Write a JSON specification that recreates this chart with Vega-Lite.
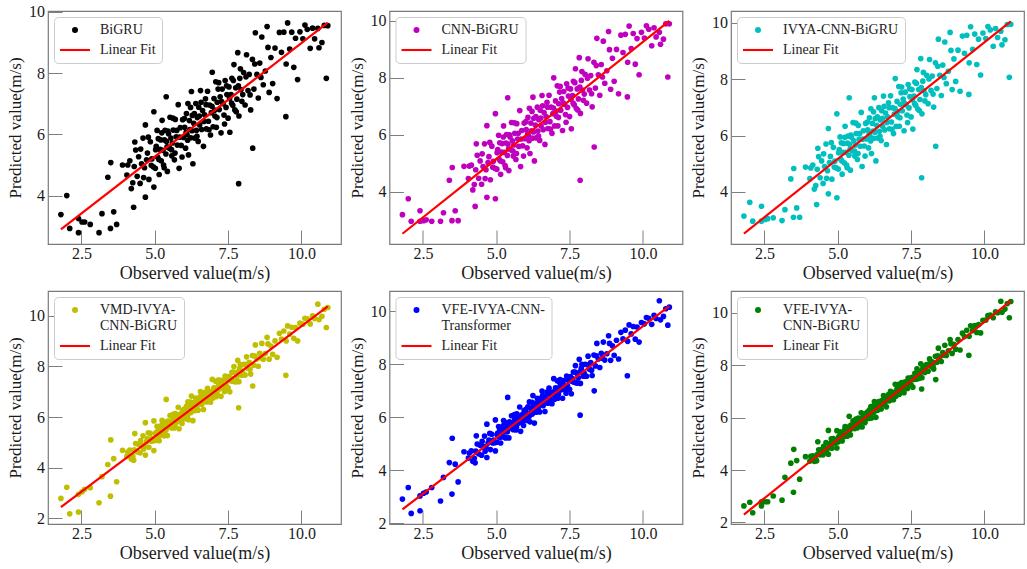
{
"$schema": "https://vega.github.io/schema/vega-lite/v6.json",
"background": "white",
"padding": {"left": 5, "top": 3, "right": 2, "bottom": 2},
"config": {
  "font": "Liberation Serif",
  "view": {"stroke": "#7a7a7a", "strokeWidth": 1.2},
  "axis": {"domain": false, "grid": false, "tickSize": -14, "tickColor": "#7f7f7f", "tickWidth": 1, "labelFont": "Liberation Serif", "labelFontSize": 16, "labelColor": "#1a1a1a", "titleFont": "Liberation Serif", "titleFontWeight": "normal", "titleColor": "#1a1a1a"},
  "axisX": {"labelPadding": 15.5, "titleFontSize": 18, "titlePadding": 3},
  "axisY": {"labelPadding": 17.5, "titleFontSize": 17, "titlePadding": 4},
  "legend": {"orient": "top-left", "offset": 6, "padding": 6, "strokeColor": "#cccccc", "cornerRadius": 4, "fillColor": "#ffffff", "labelFont": "Liberation Serif", "labelFontSize": 14, "labelColor": "#222222", "symbolSize": 36, "rowPadding": 6}
},
"resolve": {"scale": {"color": "independent", "shape": "independent"}, "legend": {"color": "independent", "shape": "independent"}},
"datasets": {
"obs": [
{"obs":1.80,"bigru":3.38,"cnn":3.19,"ivya":3.14,"vmd":2.79,"vfet":2.91,"vfeb":2.63},
{"obs":2.00,"bigru":4.00,"cnn":3.75,"ivya":3.63,"vmd":3.23,"vfet":3.35,"vfeb":2.77},
{"obs":2.10,"bigru":2.93,"cnn":2.96,"ivya":2.96,"vmd":2.18,"vfet":2.37,"vfeb":2.37},
{"obs":2.40,"bigru":3.25,"cnn":3.33,"ivya":3.49,"vmd":2.95,"vfet":3.03,"vfeb":2.79},
{"obs":2.40,"bigru":2.79,"cnn":2.96,"ivya":2.96,"vmd":2.25,"vfet":2.47,"vfeb":2.63},
{"obs":2.52,"bigru":3.14,"cnn":2.98,"ivya":3.02,"vmd":3.05,"vfet":3.13,"vfeb":2.79},
{"obs":2.61,"bigru":3.14,"cnn":3.01,"ivya":3.05,"vmd":3.15,"vfet":3.18,"vfeb":2.79},
{"obs":2.80,"bigru":3.06,"cnn":2.96,"ivya":3.08,"vmd":3.21,"vfet":3.35,"vfeb":3.01},
{"obs":3.10,"bigru":2.79,"cnn":2.96,"ivya":2.98,"vmd":2.62,"vfet":2.84,"vfeb":2.85},
{"obs":3.20,"bigru":3.41,"cnn":3.26,"ivya":3.37,"vmd":3.65,"vfet":3.73,"vfeb":3.72},
{"obs":3.40,"bigru":4.60,"cnn":4.40,"ivya":4.46,"vmd":4.13,"vfet":4.29,"vfeb":4.26},
{"obs":3.49,"bigru":2.93,"cnn":2.98,"ivya":3.10,"vmd":2.88,"vfet":3.10,"vfeb":3.15},
{"obs":3.50,"bigru":5.08,"cnn":4.85,"ivya":4.83,"vmd":5.10,"vfet":5.21,"vfeb":4.79},
{"obs":3.60,"bigru":3.47,"cnn":3.33,"ivya":3.43,"vmd":4.36,"vfet":4.23,"vfeb":4.36},
{"obs":3.70,"bigru":3.06,"cnn":2.98,"ivya":3.10,"vmd":3.45,"vfet":3.56,"vfeb":3.65},
{"obs":3.90,"bigru":5.00,"cnn":4.89,"ivya":4.88,"vmd":4.69,"vfet":4.70,"vfeb":4.51},
{"obs":4.08,"bigru":5.00,"cnn":4.90,"ivya":4.85,"vmd":4.62,"vfet":4.65,"vfeb":4.52},
{"obs":4.28,"bigru":3.62,"cnn":3.48,"ivya":3.55,"vmd":4.30,"vfet":4.28,"vfeb":4.35},
{"obs":4.20,"bigru":4.23,"cnn":4.06,"ivya":4.10,"vmd":4.35,"vfet":4.34,"vfeb":4.33},
{"obs":4.32,"bigru":5.75,"cnn":5.68,"ivya":5.55,"vmd":5.35,"vfet":5.30,"vfeb":5.08},
{"obs":4.68,"bigru":3.95,"cnn":3.80,"ivya":3.93,"vmd":4.50,"vfet":4.48,"vfeb":4.60},
{"obs":4.97,"bigru":4.28,"cnn":3.75,"ivya":3.79,"vmd":4.68,"vfet":4.73,"vfeb":4.84},
{"obs":4.68,"bigru":6.31,"cnn":6.32,"ivya":6.25,"vmd":5.78,"vfet":5.74,"vfeb":5.51},
{"obs":4.97,"bigru":6.74,"cnn":6.74,"ivya":6.77,"vmd":5.85,"vfet":5.90,"vfeb":5.50},
{"obs":5.39,"bigru":7.23,"cnn":7.30,"ivya":7.34,"vmd":6.70,"vfet":6.75,"vfeb":6.05},
{"obs":7.86,"bigru":4.39,"cnn":4.40,"ivya":4.50,"vmd":6.37,"vfet":6.08,"vfeb":7.09},
{"obs":8.34,"bigru":5.55,"cnn":5.57,"ivya":5.62,"vmd":7.23,"vfet":7.00,"vfeb":7.45},
{"obs":9.47,"bigru":6.58,"cnn":7.33,"ivya":7.46,"vmd":7.65,"vfet":7.57,"vfeb":8.38},
{"obs":10.85,"bigru":7.83,"cnn":8.03,"ivya":8.07,"vmd":9.54,"vfet":9.48,"vfeb":9.81},
{"obs":10.56,"bigru":9.46,"cnn":9.60,"ivya":9.70,"vmd":10.46,"vfet":10.40,"vfeb":10.44},
{"obs":4.05,"bigru":4.67,"cnn":4.46,"ivya":4.47,"vmd":4.45,"vfet":4.46,"vfeb":4.34},
{"obs":4.15,"bigru":5.14,"cnn":4.93,"ivya":4.95,"vmd":4.70,"vfet":4.73,"vfeb":4.54},
{"obs":4.25,"bigru":4.42,"cnn":4.25,"ivya":4.22,"vmd":4.46,"vfet":4.45,"vfeb":4.41},
{"obs":4.30,"bigru":4.95,"cnn":4.77,"ivya":4.80,"vmd":4.71,"vfet":4.72,"vfeb":4.59},
{"obs":4.35,"bigru":5.49,"cnn":5.28,"ivya":5.25,"vmd":4.96,"vfet":4.99,"vfeb":4.77},
{"obs":4.40,"bigru":4.63,"cnn":4.47,"ivya":4.50,"vmd":4.63,"vfet":4.62,"vfeb":4.58},
{"obs":4.45,"bigru":5.27,"cnn":5.08,"ivya":5.10,"vmd":4.92,"vfet":4.94,"vfeb":4.78},
{"obs":4.50,"bigru":4.40,"cnn":4.26,"ivya":4.30,"vmd":4.59,"vfet":4.57,"vfeb":4.58},
{"obs":4.55,"bigru":5.04,"cnn":4.88,"ivya":4.90,"vmd":4.89,"vfet":4.89,"vfeb":4.79},
{"obs":4.60,"bigru":5.88,"cnn":5.68,"ivya":5.70,"vmd":5.26,"vfet":5.29,"vfeb":5.05},
{"obs":4.65,"bigru":4.91,"cnn":4.77,"ivya":4.75,"vmd":4.89,"vfet":4.88,"vfeb":4.83},
{"obs":4.75,"bigru":5.39,"cnn":5.23,"ivya":5.26,"vmd":5.14,"vfet":5.14,"vfeb":5.02},
{"obs":4.80,"bigru":4.53,"cnn":4.42,"ivya":4.45,"vmd":4.81,"vfet":4.78,"vfeb":4.83},
{"obs":4.85,"bigru":5.76,"cnn":5.60,"ivya":5.58,"vmd":5.36,"vfet":5.36,"vfeb":5.20},
{"obs":4.90,"bigru":5.20,"cnn":5.07,"ivya":5.09,"vmd":5.15,"vfet":5.14,"vfeb":5.08},
{"obs":4.95,"bigru":4.94,"cnn":4.82,"ivya":4.85,"vmd":5.07,"vfet":5.04,"vfeb":5.04},
{"obs":5.02,"bigru":4.89,"cnn":4.79,"ivya":4.81,"vmd":5.08,"vfet":5.06,"vfeb":5.08},
{"obs":5.05,"bigru":5.61,"cnn":5.48,"ivya":5.50,"vmd":5.40,"vfet":5.40,"vfeb":5.29},
{"obs":5.08,"bigru":6.13,"cnn":5.98,"ivya":5.95,"vmd":5.64,"vfet":5.65,"vfeb":5.46},
{"obs":5.10,"bigru":5.25,"cnn":5.14,"ivya":5.16,"vmd":5.28,"vfet":5.26,"vfeb":5.23},
{"obs":5.12,"bigru":5.86,"cnn":5.72,"ivya":5.74,"vmd":5.55,"vfet":5.55,"vfeb":5.41},
{"obs":5.15,"bigru":4.69,"cnn":4.61,"ivya":4.63,"vmd":5.07,"vfet":5.03,"vfeb":5.11},
{"obs":5.18,"bigru":5.51,"cnn":5.39,"ivya":5.40,"vmd":5.43,"vfet":5.42,"vfeb":5.36},
{"obs":5.20,"bigru":5.82,"cnn":5.69,"ivya":5.72,"vmd":5.58,"vfet":5.57,"vfeb":5.45},
{"obs":5.22,"bigru":5.14,"cnn":5.05,"ivya":5.03,"vmd":5.30,"vfet":5.27,"vfeb":5.28},
{"obs":5.25,"bigru":6.46,"cnn":6.31,"ivya":6.33,"vmd":5.87,"vfet":5.88,"vfeb":5.66},
{"obs":5.28,"bigru":5.48,"cnn":5.38,"ivya":5.40,"vmd":5.48,"vfet":5.46,"vfeb":5.42},
{"obs":5.30,"bigru":5.00,"cnn":4.92,"ivya":4.95,"vmd":5.29,"vfet":5.25,"vfeb":5.30},
{"obs":5.33,"bigru":5.82,"cnn":5.71,"ivya":5.73,"vmd":5.65,"vfet":5.63,"vfeb":5.54},
{"obs":5.35,"bigru":6.13,"cnn":6.01,"ivya":5.98,"vmd":5.79,"vfet":5.79,"vfeb":5.64},
{"obs":5.38,"bigru":5.36,"cnn":5.27,"ivya":5.30,"vmd":5.48,"vfet":5.45,"vfeb":5.45},
{"obs":5.40,"bigru":5.77,"cnn":5.67,"ivya":5.69,"vmd":5.67,"vfet":5.65,"vfeb":5.58},
{"obs":5.43,"bigru":4.79,"cnn":4.74,"ivya":4.77,"vmd":5.27,"vfet":5.22,"vfeb":5.34},
{"obs":5.45,"bigru":6.11,"cnn":6.00,"ivya":6.02,"vmd":5.84,"vfet":5.83,"vfeb":5.71},
{"obs":5.50,"bigru":5.55,"cnn":5.47,"ivya":5.45,"vmd":5.63,"vfet":5.60,"vfeb":5.59},
{"obs":5.52,"bigru":6.56,"cnn":6.43,"ivya":6.46,"vmd":6.06,"vfet":6.06,"vfeb":5.88},
{"obs":5.55,"bigru":5.88,"cnn":5.79,"ivya":5.81,"vmd":5.80,"vfet":5.77,"vfeb":5.71},
{"obs":5.58,"bigru":5.30,"cnn":5.25,"ivya":5.27,"vmd":5.57,"vfet":5.53,"vfeb":5.58},
{"obs":5.60,"bigru":5.72,"cnn":5.64,"ivya":5.66,"vmd":5.76,"vfet":5.73,"vfeb":5.70},
{"obs":5.63,"bigru":6.14,"cnn":6.05,"ivya":6.07,"vmd":5.95,"vfet":5.93,"vfeb":5.84},
{"obs":5.67,"bigru":5.17,"cnn":5.13,"ivya":5.15,"vmd":5.57,"vfet":5.52,"vfeb":5.61},
{"obs":5.70,"bigru":6.49,"cnn":6.39,"ivya":6.36,"vmd":6.14,"vfet":6.13,"vfeb":5.98},
{"obs":5.73,"bigru":5.92,"cnn":5.85,"ivya":5.87,"vmd":5.91,"vfet":5.88,"vfeb":5.85},
{"obs":5.77,"bigru":5.65,"cnn":5.59,"ivya":5.62,"vmd":5.82,"vfet":5.78,"vfeb":5.80},
{"obs":5.80,"bigru":6.97,"cnn":6.85,"ivya":6.82,"vmd":6.39,"vfet":6.39,"vfeb":6.18},
{"obs":5.83,"bigru":4.89,"cnn":4.88,"ivya":4.90,"vmd":5.54,"vfet":5.47,"vfeb":5.64},
{"obs":5.87,"bigru":6.22,"cnn":6.15,"ivya":6.17,"vmd":6.12,"vfet":6.09,"vfeb":6.03},
{"obs":5.90,"bigru":5.64,"cnn":5.61,"ivya":5.63,"vmd":5.89,"vfet":5.85,"vfeb":5.89},
{"obs":5.95,"bigru":6.48,"cnn":6.41,"ivya":6.43,"vmd":6.27,"vfet":6.25,"vfeb":6.15},
{"obs":5.98,"bigru":5.90,"cnn":5.86,"ivya":5.88,"vmd":6.05,"vfet":6.00,"vfeb":6.02},
{"obs":6.02,"bigru":6.23,"cnn":6.18,"ivya":6.20,"vmd":6.21,"vfet":6.17,"vfeb":6.14},
{"obs":6.05,"bigru":5.55,"cnn":5.54,"ivya":5.56,"vmd":5.94,"vfet":5.88,"vfeb":5.97},
{"obs":6.08,"bigru":6.68,"cnn":6.61,"ivya":6.63,"vmd":6.43,"vfet":6.40,"vfeb":6.30},
{"obs":6.10,"bigru":5.99,"cnn":5.96,"ivya":5.98,"vmd":6.15,"vfet":6.10,"vfeb":6.13},
{"obs":6.13,"bigru":7.01,"cnn":6.93,"ivya":6.95,"vmd":6.60,"vfet":6.58,"vfeb":6.42},
{"obs":6.15,"bigru":5.33,"cnn":5.34,"ivya":5.36,"vmd":5.90,"vfet":5.83,"vfeb":5.98},
{"obs":6.18,"bigru":6.45,"cnn":6.41,"ivya":6.43,"vmd":6.39,"vfet":6.35,"vfeb":6.31},
{"obs":6.20,"bigru":6.16,"cnn":6.14,"ivya":6.16,"vmd":6.28,"vfet":6.23,"vfeb":6.24},
{"obs":6.23,"bigru":5.89,"cnn":5.88,"ivya":5.90,"vmd":6.18,"vfet":6.12,"vfeb":6.19},
{"obs":6.25,"bigru":7.40,"cnn":7.32,"ivya":7.34,"vmd":6.83,"vfet":6.82,"vfeb":6.61},
{"obs":6.28,"bigru":6.62,"cnn":6.58,"ivya":6.60,"vmd":6.52,"vfet":6.48,"vfeb":6.42},
{"obs":6.30,"bigru":5.04,"cnn":5.08,"ivya":5.10,"vmd":5.86,"vfet":5.78,"vfeb":6.01},
{"obs":6.33,"bigru":6.36,"cnn":6.34,"ivya":6.36,"vmd":6.43,"vfet":6.39,"vfeb":6.39},
{"obs":6.36,"bigru":5.88,"cnn":5.89,"ivya":5.91,"vmd":6.25,"vfet":6.19,"vfeb":6.28},
{"obs":6.40,"bigru":7.01,"cnn":6.97,"ivya":6.99,"vmd":6.75,"vfet":6.72,"vfeb":6.61},
{"obs":6.42,"bigru":6.13,"cnn":6.13,"ivya":6.15,"vmd":6.39,"vfet":6.33,"vfeb":6.39},
{"obs":6.45,"bigru":6.55,"cnn":6.53,"ivya":6.55,"vmd":6.58,"vfet":6.53,"vfeb":6.52},
{"obs":6.48,"bigru":5.77,"cnn":5.80,"ivya":5.82,"vmd":6.27,"vfet":6.20,"vfeb":6.33},
{"obs":6.50,"bigru":6.89,"cnn":6.86,"ivya":6.88,"vmd":6.75,"vfet":6.71,"vfeb":6.65},
{"obs":6.53,"bigru":6.31,"cnn":6.31,"ivya":6.33,"vmd":6.52,"vfet":6.47,"vfeb":6.51},
{"obs":6.56,"bigru":7.43,"cnn":7.38,"ivya":7.40,"vmd":7.01,"vfet":6.99,"vfeb":6.84},
{"obs":6.60,"bigru":6.16,"cnn":6.18,"ivya":6.20,"vmd":6.50,"vfet":6.44,"vfeb":6.52},
{"obs":6.63,"bigru":6.78,"cnn":6.78,"ivya":6.80,"vmd":6.78,"vfet":6.73,"vfeb":6.71},
{"obs":6.66,"bigru":5.61,"cnn":5.66,"ivya":5.68,"vmd":6.30,"vfet":6.22,"vfeb":6.41},
{"obs":6.70,"bigru":6.64,"cnn":6.64,"ivya":6.66,"vmd":6.75,"vfet":6.70,"vfeb":6.72},
{"obs":6.73,"bigru":7.16,"cnn":7.14,"ivya":7.16,"vmd":6.99,"vfet":6.95,"vfeb":6.88},
{"obs":6.76,"bigru":6.18,"cnn":6.22,"ivya":6.24,"vmd":6.60,"vfet":6.53,"vfeb":6.64},
{"obs":6.80,"bigru":7.41,"cnn":7.39,"ivya":7.41,"vmd":7.14,"vfet":7.10,"vfeb":7.00},
{"obs":6.83,"bigru":6.43,"cnn":6.46,"ivya":6.48,"vmd":6.74,"vfet":6.68,"vfeb":6.75},
{"obs":6.87,"bigru":6.96,"cnn":6.97,"ivya":6.99,"vmd":6.99,"vfet":6.93,"vfeb":6.92},
{"obs":6.90,"bigru":5.98,"cnn":6.05,"ivya":6.07,"vmd":6.59,"vfet":6.51,"vfeb":6.68},
{"obs":6.93,"bigru":6.71,"cnn":6.74,"ivya":6.76,"vmd":6.91,"vfet":6.85,"vfeb":6.90},
{"obs":6.96,"bigru":8.03,"cnn":8.00,"ivya":8.02,"vmd":7.49,"vfet":7.46,"vfeb":7.27},
{"obs":6.99,"bigru":6.25,"cnn":6.31,"ivya":6.33,"vmd":6.76,"vfet":6.68,"vfeb":6.82},
{"obs":7.02,"bigru":7.17,"cnn":7.19,"ivya":7.21,"vmd":7.16,"vfet":7.11,"vfeb":7.09},
{"obs":7.05,"bigru":6.60,"cnn":6.65,"ivya":6.67,"vmd":6.93,"vfet":6.86,"vfeb":6.95},
{"obs":7.08,"bigru":7.72,"cnn":7.72,"ivya":7.74,"vmd":7.42,"vfet":7.38,"vfeb":7.27},
{"obs":7.10,"bigru":6.23,"cnn":6.31,"ivya":6.33,"vmd":6.81,"vfet":6.72,"vfeb":6.89},
{"obs":7.13,"bigru":7.05,"cnn":7.09,"ivya":7.11,"vmd":7.17,"vfet":7.11,"vfeb":7.13},
{"obs":7.16,"bigru":7.48,"cnn":7.50,"ivya":7.52,"vmd":7.37,"vfet":7.31,"vfeb":7.26},
{"obs":7.20,"bigru":6.81,"cnn":6.86,"ivya":6.88,"vmd":7.11,"vfet":7.03,"vfeb":7.11},
{"obs":7.23,"bigru":7.23,"cnn":7.27,"ivya":7.29,"vmd":7.30,"vfet":7.24,"vfeb":7.25},
{"obs":7.26,"bigru":6.05,"cnn":6.15,"ivya":6.17,"vmd":6.82,"vfet":6.72,"vfeb":6.95},
{"obs":7.30,"bigru":7.48,"cnn":7.52,"ivya":7.54,"vmd":7.45,"vfet":7.39,"vfeb":7.36},
{"obs":7.33,"bigru":7.00,"cnn":7.07,"ivya":7.09,"vmd":7.26,"vfet":7.19,"vfeb":7.26},
{"obs":7.36,"bigru":6.63,"cnn":6.71,"ivya":6.73,"vmd":7.12,"vfet":7.03,"vfeb":7.17},
{"obs":7.40,"bigru":7.76,"cnn":7.79,"ivya":7.81,"vmd":7.62,"vfet":7.56,"vfeb":7.51},
{"obs":7.43,"bigru":6.88,"cnn":6.96,"ivya":6.98,"vmd":7.26,"vfet":7.18,"vfeb":7.29},
{"obs":7.46,"bigru":7.30,"cnn":7.36,"ivya":7.38,"vmd":7.46,"vfet":7.39,"vfeb":7.43},
{"obs":7.50,"bigru":6.53,"cnn":6.64,"ivya":6.66,"vmd":7.16,"vfet":7.06,"vfeb":7.25},
{"obs":7.53,"bigru":7.55,"cnn":7.61,"ivya":7.63,"vmd":7.60,"vfet":7.54,"vfeb":7.54},
{"obs":7.56,"bigru":6.07,"cnn":6.21,"ivya":6.23,"vmd":7.00,"vfet":6.89,"vfeb":7.16},
{"obs":7.60,"bigru":7.30,"cnn":7.38,"ivya":7.40,"vmd":7.54,"vfet":7.46,"vfeb":7.52},
{"obs":7.63,"bigru":7.83,"cnn":7.88,"ivya":7.90,"vmd":7.77,"vfet":7.71,"vfeb":7.69},
{"obs":7.66,"bigru":6.95,"cnn":7.05,"ivya":7.07,"vmd":7.42,"vfet":7.33,"vfeb":7.47},
{"obs":7.70,"bigru":8.28,"cnn":8.32,"ivya":8.34,"vmd":8.00,"vfet":7.95,"vfeb":7.86},
{"obs":7.73,"bigru":6.80,"cnn":6.92,"ivya":6.94,"vmd":7.40,"vfet":7.30,"vfeb":7.48},
{"obs":7.76,"bigru":7.52,"cnn":7.61,"ivya":7.63,"vmd":7.72,"vfet":7.64,"vfeb":7.69},
{"obs":7.80,"bigru":7.15,"cnn":7.26,"ivya":7.28,"vmd":7.59,"vfet":7.49,"vfeb":7.62},
{"obs":7.83,"bigru":8.67,"cnn":8.71,"ivya":8.73,"vmd":8.24,"vfet":8.19,"vfeb":8.05},
{"obs":7.87,"bigru":6.60,"cnn":6.75,"ivya":6.77,"vmd":7.40,"vfet":7.28,"vfeb":7.52},
{"obs":7.90,"bigru":7.83,"cnn":7.91,"ivya":7.93,"vmd":7.93,"vfet":7.85,"vfeb":7.87},
{"obs":7.94,"bigru":7.46,"cnn":7.57,"ivya":7.59,"vmd":7.79,"vfet":7.70,"vfeb":7.80},
{"obs":7.97,"bigru":7.08,"cnn":7.21,"ivya":7.23,"vmd":7.65,"vfet":7.55,"vfeb":7.72},
{"obs":8.03,"bigru":8.02,"cnn":8.12,"ivya":8.14,"vmd":8.08,"vfet":8.00,"vfeb":8.02},
{"obs":8.08,"bigru":6.96,"cnn":7.11,"ivya":7.13,"vmd":7.66,"vfet":7.55,"vfeb":7.77},
{"obs":8.13,"bigru":8.60,"cnn":8.67,"ivya":8.70,"vmd":8.38,"vfet":8.31,"vfeb":8.24},
{"obs":8.18,"bigru":7.43,"cnn":7.57,"ivya":7.60,"vmd":7.92,"vfet":7.81,"vfeb":7.96},
{"obs":8.22,"bigru":7.96,"cnn":8.08,"ivya":8.11,"vmd":8.16,"vfet":8.07,"vfeb":8.13},
{"obs":8.27,"bigru":6.80,"cnn":6.98,"ivya":7.01,"vmd":7.70,"vfet":7.58,"vfeb":7.85},
{"obs":8.33,"bigru":8.45,"cnn":8.55,"ivya":8.58,"vmd":8.43,"vfet":8.35,"vfeb":8.34},
{"obs":8.38,"bigru":7.48,"cnn":7.64,"ivya":7.67,"vmd":8.05,"vfet":7.94,"vfeb":8.11},
{"obs":8.43,"bigru":9.32,"cnn":9.39,"ivya":9.42,"vmd":8.85,"vfet":8.79,"vfeb":8.65},
{"obs":8.48,"bigru":7.96,"cnn":8.11,"ivya":8.14,"vmd":8.30,"vfet":8.20,"vfeb":8.31},
{"obs":8.53,"bigru":7.19,"cnn":7.39,"ivya":7.42,"vmd":8.01,"vfet":7.88,"vfeb":8.14},
{"obs":8.58,"bigru":8.33,"cnn":8.47,"ivya":8.50,"vmd":8.52,"vfet":8.42,"vfeb":8.48},
{"obs":8.65,"bigru":9.18,"cnn":9.29,"ivya":9.32,"vmd":8.91,"vfet":8.84,"vfeb":8.76},
{"obs":8.70,"bigru":7.62,"cnn":7.81,"ivya":7.84,"vmd":8.29,"vfet":8.16,"vfeb":8.37},
{"obs":8.77,"bigru":8.07,"cnn":8.25,"ivya":8.28,"vmd":8.51,"vfet":8.40,"vfeb":8.55},
{"obs":8.83,"bigru":9.52,"cnn":9.63,"ivya":9.66,"vmd":9.15,"vfet":9.08,"vfeb":8.98},
{"obs":8.90,"bigru":7.37,"cnn":7.60,"ivya":7.63,"vmd":8.29,"vfet":8.15,"vfeb":8.45},
{"obs":8.96,"bigru":8.51,"cnn":8.69,"ivya":8.72,"vmd":8.81,"vfet":8.70,"vfeb":8.80},
{"obs":9.02,"bigru":7.66,"cnn":7.88,"ivya":7.92,"vmd":8.48,"vfet":8.34,"vfeb":8.61},
{"obs":9.10,"bigru":8.82,"cnn":9.00,"ivya":9.03,"vmd":9.01,"vfet":8.91,"vfeb":8.98},
{"obs":9.17,"bigru":7.17,"cnn":7.44,"ivya":7.57,"vmd":8.36,"vfet":8.20,"vfeb":8.58},
{"obs":9.25,"bigru":9.33,"cnn":9.50,"ivya":9.53,"vmd":9.31,"vfet":9.21,"vfeb":9.22},
{"obs":9.32,"bigru":8.68,"cnn":8.89,"ivya":8.92,"vmd":9.08,"vfet":8.96,"vfeb":9.09},
{"obs":9.40,"bigru":9.34,"cnn":9.53,"ivya":9.56,"vmd":9.40,"vfet":9.29,"vfeb":9.33},
{"obs":9.48,"bigru":8.30,"cnn":8.55,"ivya":8.58,"vmd":9.01,"vfet":8.87,"vfeb":9.10},
{"obs":9.53,"bigru":9.64,"cnn":9.82,"ivya":9.86,"vmd":9.60,"vfet":9.49,"vfeb":9.50},
{"obs":9.60,"bigru":8.79,"cnn":9.03,"ivya":9.06,"vmd":9.28,"vfet":9.15,"vfeb":9.32},
{"obs":9.67,"bigru":9.34,"cnn":9.56,"ivya":9.60,"vmd":9.55,"vfet":9.43,"vfeb":9.51},
{"obs":9.74,"bigru":8.19,"cnn":8.48,"ivya":8.52,"vmd":9.11,"vfet":8.95,"vfeb":9.25},
{"obs":9.80,"bigru":9.14,"cnn":9.38,"ivya":9.42,"vmd":9.54,"vfet":9.41,"vfeb":9.55},
{"obs":9.87,"bigru":7.79,"cnn":8.11,"ivya":8.15,"vmd":9.01,"vfet":8.84,"vfeb":9.23},
{"obs":9.95,"bigru":9.35,"cnn":9.60,"ivya":9.64,"vmd":9.71,"vfet":9.58,"vfeb":9.71},
{"obs":10.05,"bigru":9.12,"cnn":9.40,"ivya":9.44,"vmd":9.67,"vfet":9.53,"vfeb":9.72},
{"obs":10.12,"bigru":9.57,"cnn":9.83,"ivya":9.87,"vmd":9.90,"vfet":9.77,"vfeb":9.89},
{"obs":10.20,"bigru":9.43,"cnn":9.71,"ivya":9.75,"vmd":9.88,"vfet":9.74,"vfeb":9.91},
{"obs":10.30,"bigru":8.81,"cnn":9.13,"ivya":9.17,"vmd":9.68,"vfet":9.51,"vfeb":9.81},
{"obs":10.38,"bigru":9.47,"cnn":9.76,"ivya":9.80,"vmd":10.00,"vfet":9.85,"vfeb":10.04},
{"obs":10.45,"bigru":9.12,"cnn":9.44,"ivya":9.48,"vmd":9.89,"vfet":9.73,"vfeb":10.00},
{"obs":10.60,"bigru":8.83,"cnn":9.18,"ivya":9.22,"vmd":9.85,"vfet":9.68,"vfeb":10.02},
{"obs":10.70,"bigru":9.00,"cnn":9.36,"ivya":9.40,"vmd":9.98,"vfet":9.81,"vfeb":10.14},
{"obs":10.78,"bigru":9.56,"cnn":9.90,"ivya":9.94,"vmd":10.26,"vfet":10.10,"vfeb":10.35},
{"obs":10.90,"bigru":9.55,"cnn":9.90,"ivya":9.95,"vmd":10.33,"vfet":10.16,"vfeb":10.43},
{"obs":4.52,"bigru":5.52,"cnn":5.33,"ivya":5.35,"vmd":5.07,"vfet":5.09,"vfeb":4.90},
{"obs":4.62,"bigru":4.59,"cnn":4.46,"ivya":4.48,"vmd":4.74,"vfet":4.72,"vfeb":4.72},
{"obs":4.72,"bigru":5.17,"cnn":5.02,"ivya":5.04,"vmd":5.03,"vfet":5.03,"vfeb":4.94},
{"obs":4.78,"bigru":5.91,"cnn":5.73,"ivya":5.75,"vmd":5.38,"vfet":5.39,"vfeb":5.19},
{"obs":4.88,"bigru":4.99,"cnn":4.86,"ivya":4.88,"vmd":5.05,"vfet":5.03,"vfeb":5.01},
{"obs":5.03,"bigru":5.50,"cnn":5.37,"ivya":5.39,"vmd":5.34,"vfet":5.34,"vfeb":5.25},
{"obs":5.14,"bigru":5.18,"cnn":5.08,"ivya":5.10,"vmd":5.27,"vfet":5.25,"vfeb":5.24},
{"obs":5.24,"bigru":6.05,"cnn":5.92,"ivya":5.94,"vmd":5.70,"vfet":5.69,"vfeb":5.54},
{"obs":5.32,"bigru":4.91,"cnn":4.84,"ivya":4.86,"vmd":5.26,"vfet":5.22,"vfeb":5.29},
{"obs":5.42,"bigru":5.59,"cnn":5.50,"ivya":5.51,"vmd":5.60,"vfet":5.57,"vfeb":5.54},
{"obs":5.47,"bigru":6.02,"cnn":5.92,"ivya":5.94,"vmd":5.81,"vfet":5.80,"vfeb":5.70},
{"obs":5.57,"bigru":5.50,"cnn":5.43,"ivya":5.45,"vmd":5.65,"vfet":5.61,"vfeb":5.62},
{"obs":5.62,"bigru":6.53,"cnn":6.42,"ivya":6.44,"vmd":6.11,"vfet":6.10,"vfeb":5.94},
{"obs":5.69,"bigru":5.39,"cnn":5.34,"ivya":5.36,"vmd":5.67,"vfet":5.62,"vfeb":5.68},
{"obs":5.75,"bigru":6.13,"cnn":6.05,"ivya":6.07,"vmd":6.01,"vfet":5.99,"vfeb":5.92},
{"obs":5.85,"bigru":5.91,"cnn":5.85,"ivya":5.87,"vmd":5.97,"vfet":5.94,"vfeb":5.93},
{"obs":5.93,"bigru":5.26,"cnn":5.25,"ivya":5.27,"vmd":5.75,"vfet":5.69,"vfeb":5.81},
{"obs":6.01,"bigru":6.52,"cnn":6.46,"ivya":6.48,"vmd":6.32,"vfet":6.30,"vfeb":6.21},
{"obs":6.07,"bigru":6.07,"cnn":6.03,"ivya":6.05,"vmd":6.17,"vfet":6.12,"vfeb":6.13},
{"obs":6.12,"bigru":5.81,"cnn":5.79,"ivya":5.81,"vmd":6.08,"vfet":6.03,"vfeb":6.09},
{"obs":6.22,"bigru":6.88,"cnn":6.82,"ivya":6.84,"vmd":6.59,"vfet":6.57,"vfeb":6.45},
{"obs":6.27,"bigru":6.12,"cnn":6.10,"ivya":6.12,"vmd":6.30,"vfet":6.25,"vfeb":6.28},
{"obs":6.35,"bigru":6.68,"cnn":6.64,"ivya":6.66,"vmd":6.58,"vfet":6.54,"vfeb":6.49},
{"obs":6.44,"bigru":5.94,"cnn":5.95,"ivya":5.97,"vmd":6.32,"vfet":6.26,"vfeb":6.35},
{"obs":6.52,"bigru":6.60,"cnn":6.59,"ivya":6.61,"vmd":6.64,"vfet":6.59,"vfeb":6.58},
{"obs":6.58,"bigru":7.05,"cnn":7.02,"ivya":7.04,"vmd":6.86,"vfet":6.82,"vfeb":6.75},
{"obs":6.68,"bigru":6.42,"cnn":6.44,"ivya":6.46,"vmd":6.65,"vfet":6.59,"vfeb":6.65},
{"obs":6.75,"bigru":6.97,"cnn":6.97,"ivya":6.99,"vmd":6.93,"vfet":6.88,"vfeb":6.84},
{"obs":6.85,"bigru":6.15,"cnn":6.20,"ivya":6.22,"vmd":6.63,"vfet":6.56,"vfeb":6.69},
{"obs":6.95,"bigru":6.92,"cnn":6.94,"ivya":6.96,"vmd":7.02,"vfet":6.96,"vfeb":6.97},
{"obs":7.04,"bigru":6.79,"cnn":6.83,"ivya":6.85,"vmd":7.01,"vfet":6.94,"vfeb":7.00},
{"obs":7.12,"bigru":6.55,"cnn":6.61,"ivya":6.63,"vmd":6.95,"vfet":6.87,"vfeb":6.99},
{"obs":7.18,"bigru":7.69,"cnn":7.70,"ivya":7.72,"vmd":7.47,"vfet":7.42,"vfeb":7.34},
{"obs":7.28,"bigru":7.07,"cnn":7.12,"ivya":7.14,"vmd":7.26,"vfet":7.19,"vfeb":7.24},
{"obs":7.38,"bigru":6.34,"cnn":6.44,"ivya":6.46,"vmd":7.01,"vfet":6.91,"vfeb":7.11},
{"obs":7.45,"bigru":7.59,"cnn":7.64,"ivya":7.66,"vmd":7.58,"vfet":7.51,"vfeb":7.50},
{"obs":7.55,"bigru":7.17,"cnn":7.25,"ivya":7.27,"vmd":7.45,"vfet":7.37,"vfeb":7.45},
{"obs":7.62,"bigru":7.02,"cnn":7.11,"ivya":7.13,"vmd":7.43,"vfet":7.34,"vfeb":7.46},
{"obs":7.68,"bigru":7.76,"cnn":7.83,"ivya":7.85,"vmd":7.78,"vfet":7.71,"vfeb":7.70},
{"obs":7.78,"bigru":6.74,"cnn":6.87,"ivya":6.89,"vmd":7.40,"vfet":7.30,"vfeb":7.50},
{"obs":7.85,"bigru":7.59,"cnn":7.68,"ivya":7.70,"vmd":7.80,"vfet":7.72,"vfeb":7.78},
{"obs":7.92,"bigru":8.14,"cnn":8.22,"ivya":8.24,"vmd":8.07,"vfet":8.00,"vfeb":7.97},
{"obs":8.00,"bigru":7.30,"cnn":7.43,"ivya":7.45,"vmd":7.76,"vfet":7.66,"vfeb":7.80},
{"obs":8.11,"bigru":7.88,"cnn":7.99,"ivya":8.01,"vmd":8.07,"vfet":7.98,"vfeb":8.04},
{"obs":8.25,"bigru":7.29,"cnn":7.44,"ivya":7.47,"vmd":7.89,"vfet":7.78,"vfeb":7.97},
{"obs":8.41,"bigru":8.30,"cnn":8.43,"ivya":8.46,"vmd":8.41,"vfet":8.32,"vfeb":8.36},
{"obs":8.62,"bigru":7.86,"cnn":8.03,"ivya":8.06,"vmd":8.34,"vfet":8.23,"vfeb":8.38},
{"obs":8.86,"bigru":8.84,"cnn":8.99,"ivya":9.02,"vmd":8.89,"vfet":8.79,"vfeb":8.82}
]
},
"concat": [
{
 "width": 293, "height": 233,
 "layer": [
  {"data": {"name": "obs"}, "mark": {"type": "point", "filled": true, "size": 32, "opacity": 1},
   "encoding": {
    "x": {"field": "obs", "type": "quantitative", "scale": {"domain": [1.36, 11.35], "nice": false, "zero": false}, "axis": {"values": [2.5, 5, 7.5, 10], "format": ".1f", "title": "Observed value(m/s)"}},
    "y": {"field": "bigru", "type": "quantitative", "scale": {"domain": [2.42, 10.03], "nice": false, "zero": false}, "axis": {"values": [4, 6, 8, 10], "title": "Predicted value(m/s)"}},
    "color": {"datum": "BiGRU", "scale": {"domain": ["BiGRU", "Linear Fit"], "range": ["#000000", "#ff0000"]}, "legend": {"title": null, "symbolOffset": 8, "labelOffset": 18}},
    "shape": {"datum": "BiGRU", "scale": {"domain": ["BiGRU", "Linear Fit"], "range": ["circle", "M-5,-0.35H5V0.35H-5Z"]}, "legend": {"title": null, "symbolOffset": 8, "labelOffset": 18}}
   }},
  {"data": {"values": [{"obs": 1.8, "fit": 2.9}, {"obs": 10.9, "fit": 9.65}]}, "mark": {"type": "line", "color": "#ff0000", "strokeWidth": 2.2},
   "encoding": {"x": {"field": "obs", "type": "quantitative", "axis": {"title": "Observed value(m/s)"}}, "y": {"field": "fit", "type": "quantitative", "axis": {"title": "Predicted value(m/s)"}}}}
 ]
},
{
 "width": 293, "height": 233,
 "layer": [
  {"data": {"name": "obs"}, "mark": {"type": "point", "filled": true, "size": 32, "opacity": 1},
   "encoding": {
    "x": {"field": "obs", "type": "quantitative", "scale": {"domain": [1.36, 11.35], "nice": false, "zero": false}, "axis": {"values": [2.5, 5, 7.5, 10], "format": ".1f", "title": "Observed value(m/s)"}},
    "y": {"field": "cnn", "type": "quantitative", "scale": {"domain": [2.16, 10.35], "nice": false, "zero": false}, "axis": {"values": [4, 6, 8, 10], "title": "Predicted value(m/s)"}},
    "color": {"datum": "CNN-BiGRU", "scale": {"domain": ["CNN-BiGRU", "Linear Fit"], "range": ["#bf00bf", "#ff0000"]}, "legend": {"title": null, "symbolOffset": 8, "labelOffset": 18}},
    "shape": {"datum": "CNN-BiGRU", "scale": {"domain": ["CNN-BiGRU", "Linear Fit"], "range": ["circle", "M-5,-0.35H5V0.35H-5Z"]}, "legend": {"title": null, "symbolOffset": 8, "labelOffset": 18}}
   }},
  {"data": {"values": [{"obs": 1.8, "fit": 2.52}, {"obs": 10.9, "fit": 10.0}]}, "mark": {"type": "line", "color": "#ff0000", "strokeWidth": 2.2},
   "encoding": {"x": {"field": "obs", "type": "quantitative", "axis": {"title": "Observed value(m/s)"}}, "y": {"field": "fit", "type": "quantitative", "axis": {"title": "Predicted value(m/s)"}}}}
 ]
},
{
 "width": 293, "height": 233,
 "layer": [
  {"data": {"name": "obs"}, "mark": {"type": "point", "filled": true, "size": 32, "opacity": 1},
   "encoding": {
    "x": {"field": "obs", "type": "quantitative", "scale": {"domain": [1.36, 11.35], "nice": false, "zero": false}, "axis": {"values": [2.5, 5, 7.5, 10], "format": ".1f", "title": "Observed value(m/s)"}},
    "y": {"field": "ivya", "type": "quantitative", "scale": {"domain": [2.15, 10.42], "nice": false, "zero": false}, "axis": {"values": [4, 6, 8, 10], "title": "Predicted value(m/s)"}},
    "color": {"datum": "IVYA-CNN-BiGRU", "scale": {"domain": ["IVYA-CNN-BiGRU", "Linear Fit"], "range": ["#00bfbf", "#ff0000"]}, "legend": {"title": null, "symbolOffset": 8, "labelOffset": 18}},
    "shape": {"datum": "IVYA-CNN-BiGRU", "scale": {"domain": ["IVYA-CNN-BiGRU", "Linear Fit"], "range": ["circle", "M-5,-0.35H5V0.35H-5Z"]}, "legend": {"title": null, "symbolOffset": 8, "labelOffset": 18}}
   }},
  {"data": {"values": [{"obs": 1.8, "fit": 2.52}, {"obs": 10.9, "fit": 10.05}]}, "mark": {"type": "line", "color": "#ff0000", "strokeWidth": 2.2},
   "encoding": {"x": {"field": "obs", "type": "quantitative", "axis": {"title": "Observed value(m/s)"}}, "y": {"field": "fit", "type": "quantitative", "axis": {"title": "Predicted value(m/s)"}}}}
 ]
},
{
 "width": 293, "height": 233,
 "layer": [
  {"data": {"name": "obs"}, "mark": {"type": "point", "filled": true, "size": 32, "opacity": 1},
   "encoding": {
    "x": {"field": "obs", "type": "quantitative", "scale": {"domain": [1.36, 11.35], "nice": false, "zero": false}, "axis": {"values": [2.5, 5, 7.5, 10], "format": ".1f", "title": "Observed value(m/s)"}},
    "y": {"field": "vmd", "type": "quantitative", "scale": {"domain": [1.78, 10.98], "nice": false, "zero": false}, "axis": {"values": [2, 4, 6, 8, 10], "title": "Predicted value(m/s)"}},
    "color": {"datum": "VMD-IVYA-CNN-BiGRU", "scale": {"domain": ["VMD-IVYA-CNN-BiGRU", "Linear Fit"], "range": ["#bfbf00", "#ff0000"]}, "legend": {"title": null, "symbolOffset": 8, "labelOffset": 18, "labelExpr": "datum.label === 'Linear Fit' ? datum.label : ['VMD-IVYA-', 'CNN-BiGRU']"}},
    "shape": {"datum": "VMD-IVYA-CNN-BiGRU", "scale": {"domain": ["VMD-IVYA-CNN-BiGRU", "Linear Fit"], "range": ["circle", "M-5,-0.35H5V0.35H-5Z"]}, "legend": {"title": null, "symbolOffset": 8, "labelOffset": 18, "labelExpr": "datum.label === 'Linear Fit' ? datum.label : ['VMD-IVYA-', 'CNN-BiGRU']"}}
   }},
  {"data": {"values": [{"obs": 1.8, "fit": 2.45}, {"obs": 10.9, "fit": 10.37}]}, "mark": {"type": "line", "color": "#ff0000", "strokeWidth": 2.2},
   "encoding": {"x": {"field": "obs", "type": "quantitative", "axis": {"title": "Observed value(m/s)"}}, "y": {"field": "fit", "type": "quantitative", "axis": {"title": "Predicted value(m/s)"}}}}
 ]
},
{
 "width": 293, "height": 233,
 "layer": [
  {"data": {"name": "obs"}, "mark": {"type": "point", "filled": true, "size": 32, "opacity": 1},
   "encoding": {
    "x": {"field": "obs", "type": "quantitative", "scale": {"domain": [1.36, 11.35], "nice": false, "zero": false}, "axis": {"values": [2.5, 5, 7.5, 10], "format": ".1f", "title": "Observed value(m/s)"}},
    "y": {"field": "vfet", "type": "quantitative", "scale": {"domain": [1.97, 10.77], "nice": false, "zero": false}, "axis": {"values": [2, 4, 6, 8, 10], "title": "Predicted value(m/s)"}},
    "color": {"datum": "VFE-IVYA-CNN-Transformer", "scale": {"domain": ["VFE-IVYA-CNN-Transformer", "Linear Fit"], "range": ["#0000ff", "#ff0000"]}, "legend": {"title": null, "symbolOffset": 8, "labelOffset": 18, "labelExpr": "datum.label === 'Linear Fit' ? datum.label : ['VFE-IVYA-CNN-', 'Transformer']"}},
    "shape": {"datum": "VFE-IVYA-CNN-Transformer", "scale": {"domain": ["VFE-IVYA-CNN-Transformer", "Linear Fit"], "range": ["circle", "M-5,-0.35H5V0.35H-5Z"]}, "legend": {"title": null, "symbolOffset": 8, "labelOffset": 18, "labelExpr": "datum.label === 'Linear Fit' ? datum.label : ['VFE-IVYA-CNN-', 'Transformer']"}}
   }},
  {"data": {"values": [{"obs": 1.8, "fit": 2.52}, {"obs": 10.9, "fit": 10.2}]}, "mark": {"type": "line", "color": "#ff0000", "strokeWidth": 2.2},
   "encoding": {"x": {"field": "obs", "type": "quantitative", "axis": {"title": "Observed value(m/s)"}}, "y": {"field": "fit", "type": "quantitative", "axis": {"title": "Predicted value(m/s)"}}}}
 ]
},
{
 "width": 293, "height": 233,
 "layer": [
  {"data": {"name": "obs"}, "mark": {"type": "point", "filled": true, "size": 32, "opacity": 1},
   "encoding": {
    "x": {"field": "obs", "type": "quantitative", "scale": {"domain": [1.36, 11.35], "nice": false, "zero": false}, "axis": {"values": [2.5, 5, 7.5, 10], "format": ".1f", "title": "Observed value(m/s)"}},
    "y": {"field": "vfeb", "type": "quantitative", "scale": {"domain": [1.94, 10.83], "nice": false, "zero": false}, "axis": {"values": [2, 4, 6, 8, 10], "title": "Predicted value(m/s)"}},
    "color": {"datum": "VFE-IVYA-CNN-BiGRU", "scale": {"domain": ["VFE-IVYA-CNN-BiGRU", "Linear Fit"], "range": ["#008000", "#ff0000"]}, "legend": {"title": null, "symbolOffset": 8, "labelOffset": 18, "labelExpr": "datum.label === 'Linear Fit' ? datum.label : ['VFE-IVYA-', 'CNN-BiGRU']"}},
    "shape": {"datum": "VFE-IVYA-CNN-BiGRU", "scale": {"domain": ["VFE-IVYA-CNN-BiGRU", "Linear Fit"], "range": ["circle", "M-5,-0.35H5V0.35H-5Z"]}, "legend": {"title": null, "symbolOffset": 8, "labelOffset": 18, "labelExpr": "datum.label === 'Linear Fit' ? datum.label : ['VFE-IVYA-', 'CNN-BiGRU']"}}
   }},
  {"data": {"values": [{"obs": 1.8, "fit": 2.3}, {"obs": 10.9, "fit": 10.45}]}, "mark": {"type": "line", "color": "#ff0000", "strokeWidth": 2.2},
   "encoding": {"x": {"field": "obs", "type": "quantitative", "axis": {"title": "Observed value(m/s)"}}, "y": {"field": "fit", "type": "quantitative", "axis": {"title": "Predicted value(m/s)"}}}}
 ]
}
],
"columns": 3,
"spacing": {"row": 47, "column": 48.5},
"bounds": "flush"
}
